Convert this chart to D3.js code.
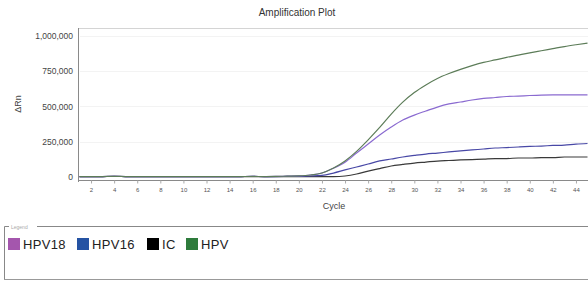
<!DOCTYPE html>
<html><head><meta charset="utf-8">
<script src="https://cdn.jsdelivr.net/npm/d3@7"></script>
<style>body{margin:0;background:#fff;}svg{display:block;font-family:"Liberation Sans",Arial,sans-serif;}</style>
</head><body>
<script>
const cycles = d3.range(1, 46);
const xTicks = d3.range(2, 45, 2);
const yTicks = [0, 250000, 500000, 750000, 1000000];
const seriesNames = ["HPV18", "HPV16", "IC", "HPV"];
const legendColors = ["#a456ad", "#2553a3", "#000000", "#2e7b3c"];
const lineColors = ["#8a6ad0", "#4848a6", "#3a3a3a", "#5c7c58"];
// values for cycles 1..45
const hpv18 = [0,0,1000,3000,1000,0,0,0,0,0,0,0,0,0,1000,2000,1000,2000,4000,6000,12000,26000,60000,103000,168000,232000,296000,353000,403000,438000,467000,495000,517000,531000,545000,556000,563000,570000,573000,577000,580000,581000,581000,581000,581000];
const hpv16 = [0,0,1000,2000,1000,0,0,0,0,0,0,0,0,0,1000,2000,1000,1000,2000,3000,5000,9000,26000,48000,69000,90000,112000,126000,140000,151000,161000,168000,176000,183000,190000,197000,204000,207000,211000,215000,218000,222000,225000,232000,236000];
const ic = [0,0,1000,2000,1000,0,0,0,0,0,0,0,0,0,1000,1000,0,0,1000,1000,0,0,0,5000,19000,40000,58000,76000,87000,97000,104000,111000,115000,119000,122000,125000,129000,129000,133000,133000,136000,136000,140000,140000,140000];
const hpv = [0,0,1000,3000,1000,0,0,0,0,0,0,0,0,0,1000,2000,1000,2000,4000,6000,12000,26000,62000,112000,180000,262000,350000,445000,530000,598000,652000,698000,733000,763000,789000,812000,830000,848000,864000,880000,895000,910000,925000,938000,950000];
const seriesValues = [hpv18, hpv16, ic, hpv];

const W = 588, H = 281;
const svg = d3.select("body").append("svg").attr("width", W).attr("height", H);

const x = d3.scaleLinear().domain([1, 45]).range([79.5, 587.5]);
const y = d3.scaleLinear().domain([0, 1000000]).range([176.7, 36]);

// plot frame
svg.append("line").attr("x1", 79).attr("x2", W).attr("y1", 28.5).attr("y2", 28.5).attr("stroke", "#d4d4d4");
// grid
svg.append("g").selectAll("line").data(yTicks.slice(1)).join("line")
  .attr("x1", 80).attr("x2", W).attr("y1", d => Math.round(y(d)) + 0.5).attr("y2", d => Math.round(y(d)) + 0.5)
  .attr("stroke", "#f3f3f3");

// title
svg.append("text").attr("x", 297).attr("y", 16).attr("text-anchor", "middle")
  .attr("font-size", 10).attr("fill", "#333").text("Amplification Plot");

// y axis
const yAxis = svg.append("g").attr("transform", "translate(79,0)")
  .call(d3.axisLeft(y).tickValues(yTicks).tickFormat(d3.format(",")).tickSize(0).tickPadding(6));
yAxis.select(".domain").remove();
yAxis.selectAll("text").attr("font-size", 8.5).attr("fill", "#444").attr("font-family", "Liberation Sans, Arial, sans-serif");
svg.append("line").attr("x1", 78.5).attr("x2", 78.5).attr("y1", 28).attr("y2", 182).attr("stroke", "#8a8a8a");

// x axis
const xAxis = svg.append("g").attr("transform", "translate(0,180.5)")
  .call(d3.axisBottom(x).tickValues(xTicks).tickSize(3).tickPadding(4));
xAxis.select(".domain").attr("d", `M78.5,0H${W}`).attr("stroke", "#8a8a8a");
xAxis.selectAll(".tick line").attr("stroke", "#aaa");
xAxis.selectAll("text").attr("font-size", 6).attr("fill", "#555").attr("font-family", "Liberation Sans, Arial, sans-serif");

// axis titles
svg.append("text").attr("transform", "translate(21,104) rotate(-90)").attr("text-anchor", "middle")
  .attr("font-size", 9).attr("fill", "#444").text("ΔRn");
svg.append("text").attr("x", 334).attr("y", 209).attr("text-anchor", "middle")
  .attr("font-size", 9).attr("fill", "#444").text("Cycle");

// lines
const line = d3.line().x((d, i) => x(cycles[i])).y(d => y(d)).curve(d3.curveMonotoneX);
const order = [2, 1, 0, 3];
svg.append("g").selectAll("path").data(order).join("path")
  .attr("d", i => line(seriesValues[i]))
  .attr("fill", "none").attr("stroke", i => lineColors[i]).attr("stroke-width", 1.2);

// legend box
svg.append("path").attr("d", `M4.5,280V226.5H${W}`).attr("fill", "none").attr("stroke", "#888").attr("stroke-width", 1);
svg.append("line").attr("x1", 4).attr("x2", W).attr("y1", 279.5).attr("y2", 279.5).attr("stroke", "#999");
svg.append("rect").attr("x", 9).attr("y", 223).attr("width", 28).attr("height", 6).attr("fill", "#fff");
svg.append("text").attr("x", 11).attr("y", 228.5).attr("font-size", 5).attr("fill", "#aaa").text("Legend");

const itemX = [8, 77, 147, 186];
const leg = svg.append("g").selectAll("g").data(seriesNames).join("g")
  .attr("transform", (d, i) => `translate(${itemX[i]},238)`);
leg.append("rect").attr("width", 12).attr("height", 12).attr("fill", (d, i) => legendColors[i]);
leg.append("text").attr("x", 15).attr("y", 11).attr("font-size", 13).attr("fill", "#222")
  .attr("letter-spacing", 0.3).text(d => d);
</script>
</body></html>
